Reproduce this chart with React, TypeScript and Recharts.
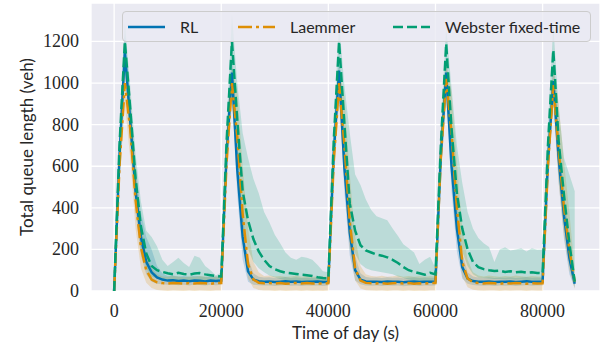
import React from 'react'
import { Area, CartesianGrid, ComposedChart, Line, XAxis, YAxis } from 'recharts'

// samples every 1000 s over the day
const times = Array.from({ length: 87 }, (_, i) => i * 1000)

const xTicks = [0, 20000, 40000, 60000, 80000]
const yTicks = [0, 200, 400, 600, 800, 1000, 1200]

// RL
const rl = [
  0, 650, 1150, 820, 480, 260, 140, 90, 65, 55, 50, 52, 48, 50, 47, 51, 49, 46, 50, 48,
  50, 660, 1050, 580, 260, 95, 55, 47, 45, 46, 43, 45, 47, 44, 46, 43, 45, 44, 46, 43,
  45, 660, 1060, 590, 280, 100, 55, 46, 44, 45, 43, 46, 44, 45, 42, 44, 46, 43, 45, 44,
  45, 650, 1050, 600, 300, 115, 60, 48, 45, 44, 46, 43, 45, 44, 46, 43, 45, 47, 44, 45,
  45, 620, 1010, 640, 360, 160, 35,
]
const rlLo = [
  0, 580, 1080, 720, 380, 170, 80, 45, 35, 32, 30, 31, 28, 30, 27, 31, 29, 26, 30, 28,
  30, 590, 960, 460, 150, 45, 30, 28, 26, 27, 24, 26, 28, 25, 27, 24, 26, 25, 27, 24,
  26, 590, 970, 470, 170, 50, 32, 27, 25, 26, 24, 27, 25, 26, 23, 25, 27, 24, 26, 25,
  26, 580, 960, 480, 190, 60, 35, 29, 26, 25, 27, 24, 26, 25, 27, 24, 26, 28, 25, 26,
  26, 550, 930, 520, 250, 80, 15,
]
const rlHi = [
  0, 720, 1230, 930, 600, 380, 260, 200, 120, 85, 72, 74, 70, 72, 68, 73, 71, 67, 72, 70,
  70, 730, 1140, 700, 380, 160, 85, 68, 65, 66, 62, 64, 67, 63, 66, 62, 64, 63, 66, 62,
  64, 730, 1150, 710, 400, 170, 85, 67, 64, 65, 62, 66, 64, 65, 61, 64, 66, 62, 65, 64,
  64, 720, 1140, 720, 420, 180, 90, 70, 65, 64, 66, 62, 65, 64, 66, 62, 65, 67, 64, 65,
  64, 690, 1100, 760, 470, 250, 60,
]

// Laemmer
const lae = [
  0, 600, 1000, 780, 440, 210, 100, 55, 42, 38, 36, 39, 37, 35, 38, 36, 39, 37, 35, 38,
  38, 620, 1000, 740, 370, 130, 55, 40, 37, 39, 36, 38, 35, 37, 39, 36, 38, 36, 37, 35,
  38, 620, 1000, 700, 330, 110, 50, 39, 37, 36, 38, 35, 37, 39, 36, 38, 35, 37, 36, 38,
  38, 640, 1020, 760, 400, 140, 60, 42, 38, 36, 39, 37, 35, 38, 36, 39, 37, 35, 38, 36,
  37, 600, 990, 680, 400, 200, 45,
]
const laeLo = [
  0, 520, 900, 640, 300, 110, 40, 15, 5, 2, 0, 3, 1, 0, 2, 0, 3, 1, 0, 2,
  2, 540, 900, 580, 230, 60, 15, 5, 2, 3, 0, 2, 0, 1, 3, 0, 2, 0, 1, 0,
  2, 540, 900, 540, 200, 50, 12, 4, 2, 1, 3, 0, 2, 3, 0, 2, 0, 1, 0, 2,
  2, 560, 920, 600, 260, 70, 18, 6, 3, 1, 3, 2, 0, 2, 1, 3, 2, 0, 2, 1,
  1, 520, 890, 520, 260, 100, 10,
]
const laeHi = [
  0, 680, 1090, 930, 600, 330, 180, 110, 80, 70, 68, 72, 70, 66, 70, 68, 72, 70, 66, 70,
  70, 700, 1080, 960, 600, 300, 140, 90, 72, 74, 70, 72, 68, 70, 74, 69, 72, 69, 70, 68,
  70, 700, 1080, 930, 560, 260, 120, 80, 72, 70, 73, 68, 71, 74, 69, 72, 68, 71, 69, 72,
  70, 720, 1100, 960, 620, 300, 150, 90, 74, 70, 74, 71, 68, 72, 70, 74, 71, 68, 72, 70,
  70, 680, 1080, 900, 620, 380, 100,
]

// Webster fixed-time
const web = [
  0, 700, 1200, 880, 540, 310, 180, 120, 100, 92, 85, 80, 88, 82, 78, 84, 86, 80, 76, 72,
  70, 720, 1200, 820, 480, 340, 250, 190, 150, 120, 105, 95, 88, 85, 82, 78, 76, 72, 66, 62,
  60, 720, 1200, 800, 420, 290, 220, 195, 185, 175, 170, 162, 150, 135, 115, 100, 92, 85, 78, 88,
  80, 700, 1190, 780, 470, 300, 200, 140, 115, 105, 100, 96, 98, 92, 95, 90, 93, 88, 90, 87,
  85, 700, 1160, 720, 460, 230, 45,
]
const webLo = [
  0, 620, 1080, 760, 420, 200, 110, 70, 60, 55, 50, 48, 52, 50, 45, 50, 52, 48, 45, 42,
  40, 640, 1060, 650, 320, 200, 140, 110, 90, 75, 65, 58, 52, 50, 48, 45, 42, 40, 38, 36,
  36, 640, 1080, 640, 300, 180, 130, 110, 100, 95, 90, 85, 80, 70, 62, 55, 50, 46, 44, 48,
  45, 620, 1060, 640, 320, 190, 120, 80, 65, 62, 60, 58, 58, 55, 56, 54, 55, 52, 54, 52,
  50, 620, 1040, 560, 310, 130, 20,
]
const webHi = [
  0, 780, 1290, 990, 660, 430, 290, 260, 215, 150, 120, 140, 160, 135, 115, 170, 160, 120, 100, 75,
  90, 800, 1330, 1000, 760, 640, 540, 470, 380, 330, 270, 230, 185, 160, 150, 165, 160, 150, 125, 95,
  90, 800, 1290, 990, 760, 560, 510, 440, 390, 360, 350, 340, 300, 265, 225, 205, 185, 130, 150, 165,
  110, 790, 1270, 980, 700, 520, 380, 300, 255, 230, 212, 140, 200, 210, 195, 200, 205, 190, 205, 198,
  200, 800, 1280, 880, 640, 560, 480,
]

const data = times.map((t, i) => ({
  t,
  rl: rl[i],
  rlBand: [rlLo[i], rlHi[i]],
  lae: lae[i],
  laeBand: [laeLo[i], laeHi[i]],
  web: web[i],
  webBand: [webLo[i], webHi[i]],
}))

const BLUE = '#0173B2'
const ORANGE = '#DE8F05'
const GREEN = '#029E73'
const INK = '#262626'
const SERIF = '"Liberation Serif", "DejaVu Serif", serif'
const SANS = 'Lato, sans-serif'

const XTick = (props: any) => (
  <text x={props.x} y={props.y + 13} textAnchor="middle" fill={INK} style={{ fontFamily: SERIF, fontSize: 18 }}>
    {props.payload.value}
  </text>
)

const YTick = (props: any) => (
  <text x={props.x} y={props.y + 6} textAnchor="end" fill={INK} style={{ fontFamily: SERIF, fontSize: 18 }}>
    {props.payload.value}
  </text>
)

const legendItems = [
  { name: 'RL', color: BLUE, dash: undefined, left: 6 },
  { name: 'Laemmer', color: ORANGE, dash: '14 4 3 4', left: 116 },
  { name: 'Webster fixed-time', color: GREEN, dash: '10 4', left: 271 },
]

const ChartLegend = () => (
  <div style={{
    position: 'absolute', left: 122, top: 11, width: 467, height: 29,
    border: '1px solid #cccccc', borderRadius: 4, background: 'rgba(234,234,242,0.8)',
    fontFamily: SANS, fontSize: 16, color: INK,
  }}>
    {legendItems.map((it) => (
      <div key={it.name} style={{ position: 'absolute', left: it.left - 1, top: 0, height: 29, display: 'flex', alignItems: 'center' }}>
        <svg width={37} height={6}>
          <line x1={0} y1={3} x2={37} y2={3} stroke={it.color} strokeWidth={2.6} strokeDasharray={it.dash} />
        </svg>
        <span style={{ marginLeft: 15, whiteSpace: 'nowrap' }}>{it.name}</span>
      </div>
    ))}
  </div>
)

export default function App() {
  return (
    <div style={{ position: 'absolute', left: 0, top: 0, width: 606, height: 349, background: '#fff' }}>
      <ComposedChart width={606} height={349} data={data} margin={{ top: 3, right: 6, bottom: 0, left: 0 }}>
        <CartesianGrid fill="#EAEAF2" stroke="#ffffff" strokeWidth={1.3} />
        <XAxis
          dataKey="t" type="number" domain={[-4320, 90720]} ticks={xTicks} allowDataOverflow
          axisLine={false} tickLine={false} tickSize={6} tickMargin={7} height={58}
          tick={XTick}
          label={{ value: 'Time of day (s)', position: 'insideBottom', offset: 10, style: { fontFamily: SANS, fontSize: 17, fill: INK } }}
        />
        <YAxis
          type="number" domain={[0, 1385]} ticks={yTicks} allowDataOverflow
          axisLine={false} tickLine={false} tickSize={6} tickMargin={6} width={91}
          tick={YTick}
          label={{ value: 'Total queue length (veh)', angle: -90, position: 'center', dx: -19, style: { fontFamily: SANS, fontSize: 17, fill: INK } }}
        />
        <Area dataKey="rlBand" stroke="none" fill={BLUE} fillOpacity={0.2} isAnimationActive={false} />
        <Line dataKey="rl" stroke={BLUE} strokeWidth={2.5} dot={false} isAnimationActive={false} />
        <Area dataKey="laeBand" stroke="none" fill={ORANGE} fillOpacity={0.2} isAnimationActive={false} />
        <Line dataKey="lae" stroke={ORANGE} strokeWidth={2.5} strokeDasharray="14 4 3 4" dot={false} isAnimationActive={false} />
        <Area dataKey="webBand" stroke="none" fill={GREEN} fillOpacity={0.2} isAnimationActive={false} />
        <Line dataKey="web" stroke={GREEN} strokeWidth={2.5} strokeDasharray="10 4" dot={false} isAnimationActive={false} />
      </ComposedChart>
      <ChartLegend />
    </div>
  )
}
